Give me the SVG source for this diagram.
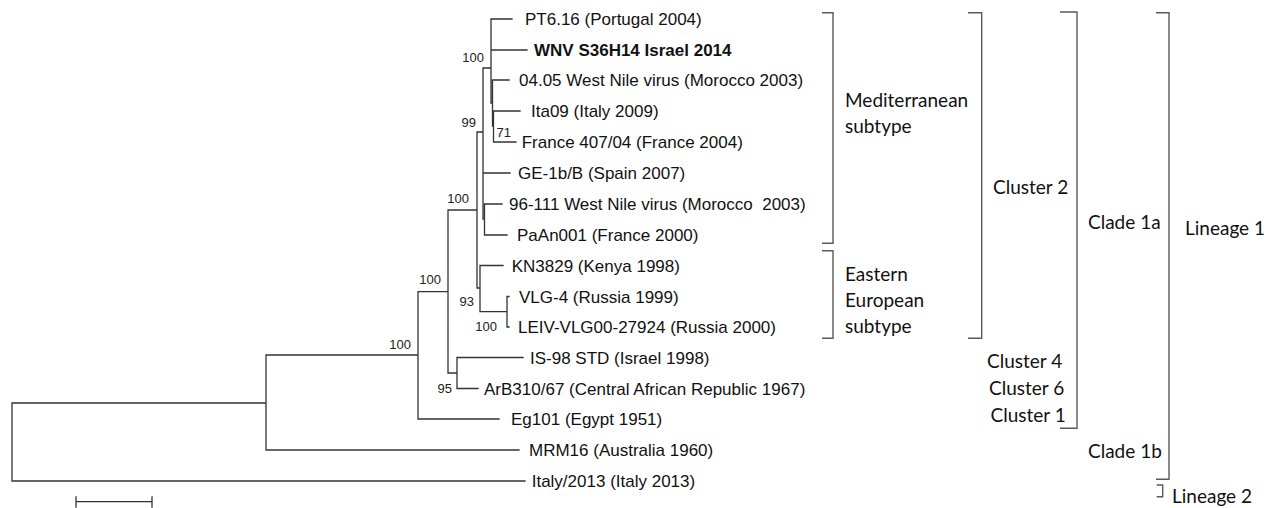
<svg xmlns="http://www.w3.org/2000/svg" width="1270" height="508" viewBox="0 0 1270 508">
<style>
.tr{fill:none;stroke:#333;stroke-width:1.3;stroke-linecap:square}
.br{fill:none;stroke:#5a5a5a;stroke-width:1.4}
.tx{font-family:"Liberation Sans",Arial,sans-serif;font-size:17px;fill:#111}
.b{font-weight:bold}
.sv{font-family:"Liberation Sans",Arial,sans-serif;font-size:13px;fill:#222;text-anchor:end}
.gl{font-family:Lato,"Open Sans",sans-serif;font-size:19px;fill:#111}
</style>
<rect width="1270" height="508" fill="#fff"/>
<g id="connectors">
<path class="tr" d="M12,403V481H525M12,403H266M266,355V450H519M266,355H418M418,291.7V419H499M418,291.7H448M448,210V373H457M457,357.5V388.5M457,357.5H523M457,388.5H478M448,210H477M477,132V288M477,132H483M477,288H480M480,265.5V311.7M480,265.5H503M480,311.7H507M507,296.5V327M507,296.5H509M507,327H509M483,68V219M483,68H491M483,173H510M483,219H484.5M484.5,204V235M484.5,204H502M484.5,235H507M491,19V103M491,19H512M491,50H527M491,103H492.5M492.5,80V126M492.5,80H509M492.5,126H493.5M493.5,111V142M493.5,111H520M493.5,142H516"/>
<path class="tr" d="M76,501.7H152M76,497V507M152,497V507"/>
</g>
<g id="taxa">
<text id="t-pt616" class="tx" x="525" y="25">PT6.16 (Portugal 2004)</text>
<text id="t-wnv" class="tx b" x="534" y="56">WNV S36H14 Israel 2014</text>
<text id="t-0405" class="tx" x="519" y="86">04.05 West Nile virus (Morocco 2003)</text>
<text id="t-ita09" class="tx" x="531" y="117">Ita09 (Italy 2009)</text>
<text id="t-france407" class="tx" x="521.7" y="148">France 407/04 (France 2004)</text>
<text id="t-ge1b" class="tx" x="518" y="179">GE-1b/B (Spain 2007)</text>
<text id="t-96111" class="tx" x="509" y="210" xml:space="preserve">96-111 West Nile virus (Morocco  2003)</text>
<text id="t-paan001" class="tx" x="517" y="241">PaAn001 (France 2000)</text>
<text id="t-kn3829" class="tx" x="511.7" y="271.5">KN3829 (Kenya 1998)</text>
<text id="t-vlg4" class="tx" x="519" y="302.5">VLG-4 (Russia 1999)</text>
<text id="t-leiv" class="tx" x="518" y="333">LEIV-VLG00-27924 (Russia 2000)</text>
<text id="t-is98" class="tx" x="530" y="363.5">IS-98 STD (Israel 1998)</text>
<text id="t-arb310" class="tx" x="484" y="394.5">ArB310/67 (Central African Republic 1967)</text>
<text id="t-eg101" class="tx" x="511" y="425">Eg101 (Egypt 1951)</text>
<text id="t-mrm16" class="tx" x="529" y="456">MRM16 (Australia 1960)</text>
<text id="t-italy2013" class="tx" x="531.7" y="487">Italy/2013 (Italy 2013)</text>
</g>
<g id="support">
<text class="sv" x="484" y="62">100</text>
<text class="sv" x="476" y="127">99</text>
<text class="sv" x="511" y="137">71</text>
<text class="sv" x="469" y="203">100</text>
<text class="sv" x="441" y="284">100</text>
<text class="sv" x="474" y="306">93</text>
<text class="sv" x="497" y="331">100</text>
<text class="sv" x="411" y="349">100</text>
<text class="sv" x="452" y="393">95</text>
</g>
<g id="bracket-mediterranean">
<path class="br" d="M822,12.7H833V243.3H822"/>
<text class="gl" x="845" y="107">Mediterranean</text>
<text class="gl" x="845" y="133">subtype</text>
</g>
<g id="bracket-eastern">
<path class="br" d="M822,250.7H833V338.3H822"/>
<text class="gl" x="845" y="281">Eastern</text>
<text class="gl" x="845" y="307">European</text>
<text class="gl" x="845" y="333">subtype</text>
</g>
<g id="bracket-cluster2">
<path class="br" d="M968,12.7H981.7V338.3H968"/>
<text class="gl" x="993" y="194">Cluster 2</text>
</g>
<g id="clusters-other">
<text class="gl" x="987" y="368">Cluster 4</text>
<text class="gl" x="989" y="395">Cluster 6</text>
<text class="gl" x="990.5" y="422">Cluster 1</text>
</g>
<g id="bracket-clade1a">
<path class="br" d="M1060,12H1077V428.3H1060"/>
<text class="gl" x="1088" y="229">Clade 1a</text>
</g>
<g id="clade1b">
<text class="gl" x="1088" y="458">Clade 1b</text>
</g>
<g id="bracket-lineage1">
<path class="br" d="M1156,12.7H1169V479.3H1156"/>
<text class="gl" x="1185" y="235">Lineage 1</text>
</g>
<g id="bracket-lineage2">
<path class="br" d="M1156.7,485H1162.7V496.7H1156.7"/>
<text class="gl" x="1172" y="503">Lineage 2</text>
</g>
</svg>
